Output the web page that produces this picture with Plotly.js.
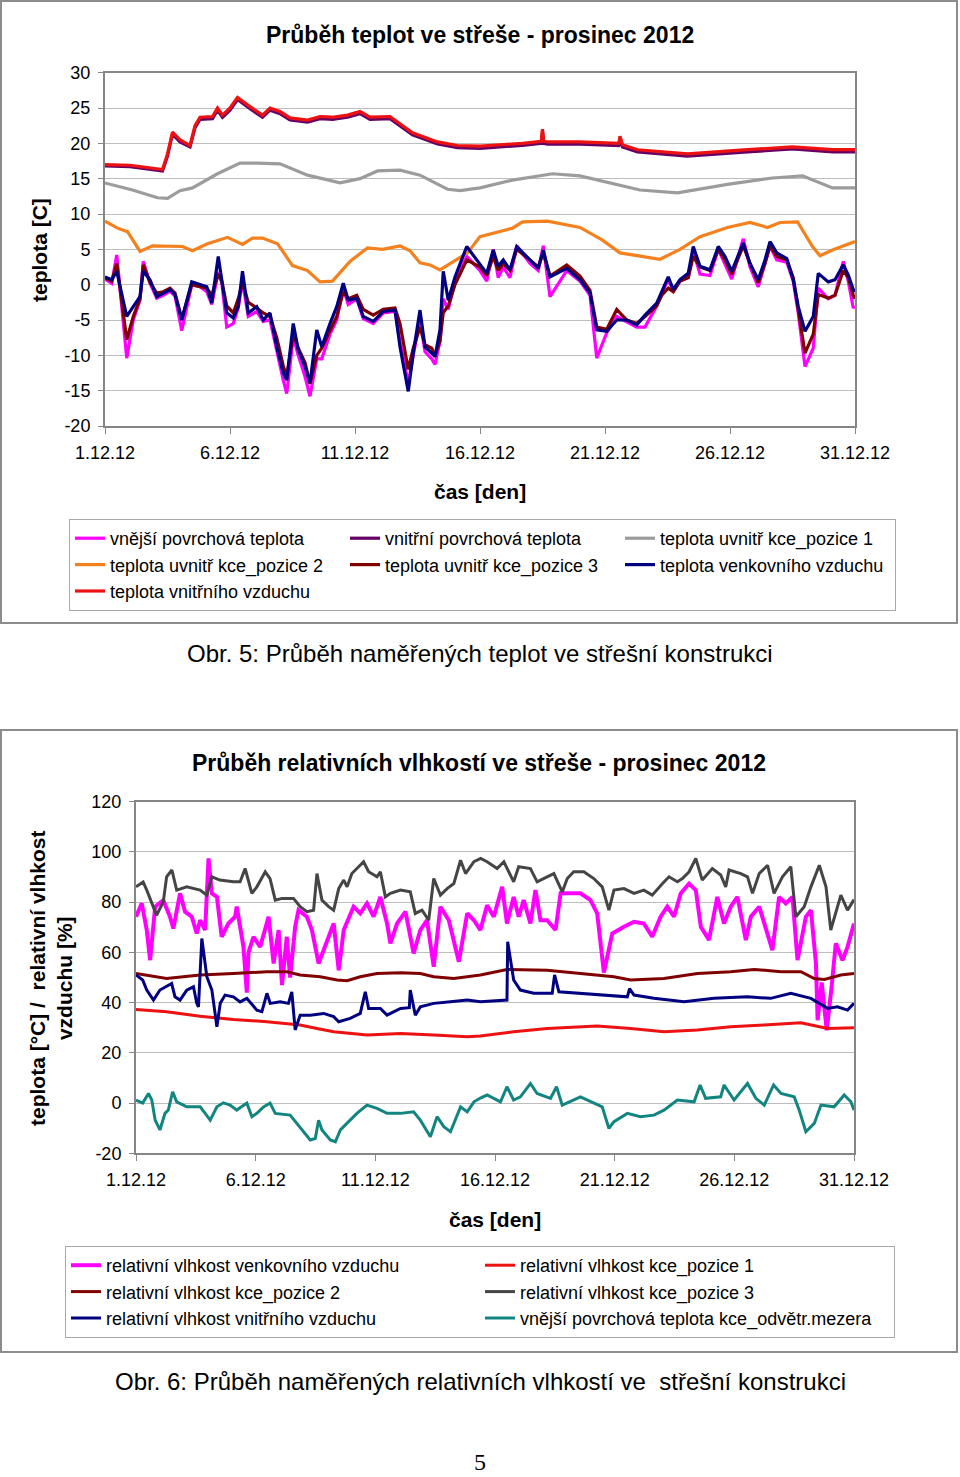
<!DOCTYPE html>
<html>
<head>
<meta charset="utf-8">
<script src="https://cdn.plot.ly/plotly-3.0.1.min.js"></script>
<style>
html,body{margin:0;padding:0;background:#fff;}
#chart{width:960px;height:1477px;}
</style>
</head>
<body>
<div id="chart"></div>
<script>
// ---------- DATA ----------
// Chart 1: temperatures (day of December 2012)
const dayTicks = [1, 6, 11, 16, 21, 26, 31];
const dayTickLabels = ['1.12.12', '6.12.12', '11.12.12', '16.12.12', '21.12.12', '26.12.12', '31.12.12'];
const tempTicks = [-20, -15, -10, -5, 0, 5, 10, 15, 20, 25, 30];
const tempTickLabels = ['-20', '-15', '-10', '-5', '0', '5', '10', '15', '20', '25', '30'];
const rhTicks = [-20, 0, 20, 40, 60, 80, 100, 120];
const rhTickLabels = ['-20', '0', '20', '40', '60', '80', '100', '120'];

const lowDays = [1.0,1.27,1.47,1.87,2.13,2.4,2.53,2.8,3.07,3.33,
  3.6,3.8,4.07,4.47,4.8,5.07,5.27,5.53,5.67,5.87,
  6.13,6.33,6.5,6.73,7.07,7.33,7.6,7.87,8.13,8.27,
  8.53,8.73,9.0,9.2,9.47,9.67,10.0,10.27,10.53,10.73,
  11.07,11.33,11.73,12.13,12.6,12.8,13.13,13.33,13.6,13.8,
  14.07,14.2,14.4,14.53,14.73,15.0,15.47,16.0,16.27,16.53,
  16.73,16.93,17.2,17.47,18.0,18.33,18.53,18.8,19.47,20.0,
  20.4,20.67,21.07,21.47,21.87,22.27,22.6,23.07,23.27,23.53,
  23.73,24.0,24.33,24.53,24.8,25.2,25.53,25.8,26.07,26.53,
  26.8,27.13,27.4,27.6,27.87,28.27,28.53,28.73,29.0,29.33,
  29.53,29.93,30.2,30.53,30.73,30.93,31.0];
const outdoorAirTemp = [1.1,0.7,1.9,-4.5,-3.1,-1.7,1.9,0.7,-1.7,-1.2,
  -0.7,-1.4,-5.0,0.4,0.0,-0.3,-2.6,4.0,0.7,-4.0,
  -4.7,-3.1,1.9,-4.0,-3.1,-5.0,-4.0,-8.8,-12.5,-13.5,
  -5.5,-9.2,-11.6,-13.9,-6.4,-8.8,-5.5,-3.1,0.2,-2.2,
  -1.9,-4.5,-5.2,-3.8,-3.6,-8.8,-15.1,-9.7,-3.6,-8.8,
  -9.7,-10.2,-6.4,1.9,-2.2,1.1,5.4,3.0,1.6,4.9,
  2.6,3.5,2.1,5.4,3.5,2.3,4.9,1.1,2.3,0.7,
  -1.2,-6.4,-6.6,-5.0,-5.0,-5.7,-4.3,-2.6,-1.0,1.1,
  -0.7,0.7,1.6,5.4,2.6,2.1,5.4,4.0,1.9,5.9,
  3.0,0.7,3.5,6.1,4.5,3.7,0.7,-3.1,-6.6,-4.5,
  1.6,0.4,0.7,2.8,1.4,-0.7,-1.0];
const pos3Temp = [1.0,0.5,3.0,-7.8,-4.5,-2.0,2.8,0.3,-1.2,-1.0,
  -0.5,-1.2,-4.8,0.0,-0.3,-0.5,-1.5,1.5,0.5,-3.0,
  -4.0,-2.0,0.3,-2.5,-3.3,-4.0,-4.5,-7.5,-11.5,-13.0,
  -7.0,-9.0,-11.0,-14.0,-10.0,-9.0,-6.5,-4.5,-1.0,-2.0,
  -1.5,-3.5,-4.3,-3.5,-3.3,-5.5,-12.0,-9.0,-6.0,-8.5,
  -9.0,-10.0,-8.0,-4.0,-3.0,0.0,3.5,2.5,1.3,4.0,
  2.0,3.0,2.0,5.0,3.5,2.5,4.5,1.2,2.8,1.2,
  -0.8,-6.0,-6.3,-3.5,-5.0,-5.5,-4.5,-3.0,-1.5,-0.5,
  -1.0,0.5,1.0,4.0,2.5,2.0,5.0,3.5,1.5,5.5,
  3.0,0.3,3.0,5.5,4.0,3.5,1.0,-3.5,-9.7,-7.0,
  -1.4,-1.9,-1.5,2.0,1.0,-1.5,-2.0];
const outerSurfTemp = [0.8,0.2,4.2,-10.4,-5.0,-2.2,3.3,0.2,-1.9,-1.5,
  -0.9,-1.6,-6.5,0.0,-0.3,-1.0,-2.8,1.8,0.3,-6.0,
  -5.5,-3.3,0.5,-4.5,-3.8,-5.2,-5.0,-9.5,-13.5,-15.4,
  -7.5,-10.0,-13.0,-15.8,-10.5,-10.5,-7.0,-5.0,-0.5,-2.8,
  -2.0,-4.8,-5.5,-4.0,-3.8,-8.0,-14.0,-10.0,-5.0,-9.5,
  -10.5,-11.3,-8.0,-2.0,-3.5,0.5,4.0,2.0,0.5,5.0,
  1.0,2.5,1.0,5.5,3.0,2.0,5.5,-1.7,2.0,0.5,
  -1.5,-10.4,-6.8,-4.5,-5.3,-6.0,-6.0,-3.0,-1.3,0.8,
  -1.0,0.5,1.0,4.8,1.5,1.3,5.0,3.0,0.8,6.5,
  2.5,-0.3,3.0,5.5,3.5,3.2,0.5,-4.0,-11.6,-9.0,
  -0.5,-2.0,-1.5,3.3,0.5,-3.3,-3.0];

const indoorDays = [1,2,3.3,3.5,3.7,4.0,4.4,4.6,4.8,5.3,
  5.5,5.7,6.0,6.3,6.8,7.3,7.6,8.0,8.4,9.1,
  9.6,10.1,10.7,11.2,11.6,12.4,13.3,14.3,15.1,16,
  16.8,17.7,18.45,18.5,18.55,18.7,20,21.55,21.6,21.7,
  22.3,24.3,26.7,28.5,30.1,31];
const indoorAirTemp = [17.0,16.9,16.3,18.5,21.6,20.5,19.7,22.5,23.7,23.8,
  25.0,24.0,25.0,26.5,25.2,24.0,25.0,24.5,23.6,23.3,
  23.8,23.7,24.0,24.5,23.7,23.8,21.5,20.2,19.7,19.6,
  19.8,20.0,20.3,22.0,20.3,20.2,20.2,20.0,21.0,19.8,
  19.1,18.5,19.1,19.5,19.1,19.1];
const innerSurfTemp = [16.8,16.7,16.1,18.2,21.3,20.2,19.5,22.2,23.4,23.5,
  24.7,23.7,24.7,26.2,24.9,23.7,24.7,24.2,23.3,23.0,
  23.5,23.4,23.7,24.2,23.4,23.5,21.2,19.9,19.4,19.3,
  19.5,19.7,20.0,21.7,20.0,19.9,19.9,19.7,20.7,19.5,
  18.8,18.2,18.8,19.2,18.8,18.8];

const pos1Days = [1,2.1,3.1,3.5,4.0,4.5,5.5,6.4,7.1,8.0,9.1,10.4,11.2,11.9,12.8,13.6,14.7,15.2,16.0,17.3,18.9,20.0,22.4,23.9,25.9,27.7,28.9,30.1,31];
const pos1Temp = [14.4,13.4,12.3,12.2,13.3,13.7,15.7,17.2,17.2,17.1,15.5,14.4,15.0,16.1,16.2,15.5,13.5,13.3,13.7,14.8,15.7,15.4,13.4,13.0,14.2,15.1,15.4,13.7,13.7];

const pos2Days = [1,1.5,1.9,2.4,2.9,4.1,4.5,5.1,5.9,6.5,
  6.9,7.3,7.9,8.5,9.1,9.6,10.1,10.8,11.5,12.1,
  12.8,13.2,13.6,14.0,14.4,15.5,16.0,16.5,17.3,17.7,
  18.7,20.0,20.9,21.6,23.2,24.0,24.8,25.9,26.8,27.5,
  28.0,28.7,29.3,29.6,30.1,31];
const pos2Temp = [9.0,8.0,7.5,4.7,5.5,5.4,4.8,5.8,6.7,5.7,
  6.6,6.6,5.8,2.7,2.0,0.4,0.5,3.3,5.2,5.0,
  5.5,4.8,3.1,2.8,2.1,4.5,6.8,7.3,8.0,8.9,
  9.0,8.1,6.3,4.5,3.6,5.0,6.8,8.1,8.8,8.1,
  8.8,8.9,5.4,4.1,4.9,6.1];

// Chart 2: relative humidity
const rhOutDays = [1,1.24,1.45,1.59,1.8,2.14,2.42,2.56,2.84,3.05,
  3.33,3.54,3.68,3.89,4.03,4.17,4.38,4.58,4.86,5.14,
  5.21,5.49,5.63,5.7,5.91,6.19,6.54,6.75,6.96,7.1,
  7.3,7.44,7.65,7.79,8.14,8.35,8.63,9.26,9.47,9.68,
  10.09,10.37,10.65,10.93,11.21,11.49,11.63,11.91,12.26,12.6,
  12.88,13.16,13.44,13.72,14.07,14.49,14.84,15.12,15.39,15.67,
  15.95,16.3,16.5,16.78,16.99,17.2,17.48,17.69,17.9,18.18,
  18.53,18.74,19.16,19.57,19.99,20.27,20.55,20.9,21.39,21.81,
  22.22,22.57,22.92,23.2,23.48,23.76,24.11,24.39,24.6,24.94,
  25.29,25.57,25.85,26.13,26.48,26.69,27.04,27.32,27.59,27.87,
  28.15,28.43,28.64,28.99,29.2,29.41,29.48,29.65,29.86,30.05,
  30.24,30.52,30.73,31.0];
const rhOutdoor = [74.2,79.5,68.9,56.9,78.2,80.8,74.2,69.5,83.5,76.2,
  74.2,67.5,72.8,68.9,97.4,83.5,82.1,66.2,71.5,74.2,
  78.2,62.2,44.0,60.0,66.2,62.2,74.2,55.6,68.9,47.0,
  66.2,50.0,70.2,76.8,74.2,68.9,55.6,71.5,52.9,68.9,
  78.2,75.5,79.5,74.2,82.1,71.5,63.6,71.5,76.2,59.6,
  68.9,72.8,54.3,78.2,72.8,56.3,75.5,72.8,68.9,78.8,
  74.2,86.1,71.5,82.1,74.2,80.8,71.5,84.8,72.8,72.8,
  68.9,83.5,83.5,83.5,80.8,75.5,52.0,67.5,70.2,72.2,
  71.5,66.2,74.2,78.2,74.2,83.5,87.4,84.8,70.2,64.9,
  82.1,71.5,78.2,82.1,64.9,74.2,78.2,68.9,60.9,82.1,
  79.5,82.1,56.9,74.2,76.8,55.6,33.0,48.0,29.0,45.0,
  63.6,56.9,62.2,71.5];

const rhPos1Days = [1,2.28,3.68,5.07,6.47,7.86,8.56,9.26,10.65,12.05,13.44,14.84,15.39,16.78,18.18,20.27,21.67,23.06,24.46,25.85,27.25,28.78,29.9,31.0];
const rhPos1 = [37.3,36.4,34.6,33.3,32.4,31.1,29.7,28.4,27.1,27.7,27.1,26.4,26.7,28.4,29.7,30.7,29.7,28.4,29.1,30.4,31.1,32.0,29.7,30.0];

const rhPos2Days = [1,1.97,2.28,2.98,3.68,5.07,6.47,7.3,7.86,8.7,
  9.4,9.82,10.37,11.07,12.05,12.88,13.44,14.28,14.84,15.39,
  16.5,18.18,19.57,20.97,21.67,23.06,24.46,25.85,26.83,27.95,
  28.78,29.34,29.76,30.45,31.0];
const rhPos2 = [51.6,50.3,49.6,50.3,51.0,51.6,52.3,52.3,51.0,50.3,
  49.0,48.7,50.3,51.6,51.9,51.6,50.3,49.6,50.3,51.0,
  53.2,52.9,51.6,50.3,49.0,49.6,51.6,52.3,53.2,52.3,
  52.3,49.6,49.2,51.0,51.6];

const rhPos3Days = [1,1.3,1.45,1.73,1.86,2.14,2.28,2.5,2.7,3.12,
  3.68,3.96,4.17,4.5,5.07,5.35,5.56,5.84,6.05,6.4,
  6.6,6.82,7.1,7.58,7.86,8.14,8.42,8.56,8.77,9.05,
  9.26,9.47,9.68,9.82,10.02,10.51,10.72,11.07,11.21,11.42,
  11.63,12.05,12.46,12.67,12.95,13.23,13.44,13.72,14.0,14.28,
  14.56,14.77,15.12,15.4,15.67,16.09,16.37,16.78,16.99,17.48,
  17.76,18.18,18.46,18.81,19.02,19.29,19.71,20.13,20.48,20.76,
  20.97,21.39,21.81,22.22,22.57,23.0,23.27,23.62,23.83,24.11,
  24.39,24.66,25.08,25.43,25.64,25.78,26.27,26.55,26.76,27.04,
  27.39,27.66,28.01,28.36,28.57,28.92,29.2,29.55,29.83,30.03,
  30.45,30.73,31.0];
const rhPos3 = [86.1,88.0,84.8,78.2,74.8,80.1,90.1,92.8,84.8,86.1,
  84.8,82.8,90.1,88.8,88.1,88.1,93.4,83.5,86.1,92.1,
  89.4,80.8,81.5,81.5,78.2,76.2,76.8,91.4,80.8,78.2,
  76.8,85.4,88.8,86.1,91.4,96.1,92.1,90.1,92.1,82.1,
  83.5,84.8,84.1,75.5,76.8,72.8,89.4,82.8,85.4,87.4,
  96.7,91.4,96.1,97.4,96.1,93.4,96.1,88.1,94.1,93.4,
  88.1,90.1,91.4,84.1,89.4,92.1,92.1,89.4,86.1,76.8,
  84.8,85.4,83.5,84.8,82.8,87.4,90.1,88.1,89.4,92.1,
  97.4,88.8,93.4,90.8,86.1,92.8,91.4,90.1,83.5,91.4,
  94.7,83.5,90.1,94.1,74.2,78.2,86.1,94.7,86.1,68.9,
  82.8,76.8,81.0];

const rhInDays = [1,1.28,1.45,1.73,2.0,2.28,2.49,2.63,2.84,3.12,
  3.4,3.54,3.61,3.75,3.96,4.17,4.38,4.52,4.72,5.07,
  5.35,5.63,6.05,6.26,6.47,6.61,7.03,7.37,7.51,7.65,
  7.86,8.28,8.84,9.26,9.47,9.95,10.37,10.58,10.72,11.21,
  11.49,12.05,12.42,12.46,12.67,12.88,13.44,14.14,14.84,15.39,
  16.5,16.53,16.78,17.06,17.62,18.39,18.49,18.67,19.57,20.69,
  21.53,21.62,21.81,22.64,23.9,25.15,26.55,27.52,28.36,29.2,
  29.9,30.31,30.73,31.0];
const rhIndoor = [51.0,49.0,45.0,41.0,45.0,46.3,47.6,42.3,41.0,45.0,
  46.3,39.7,38.3,65.5,50.3,45.0,30.4,39.7,43.0,42.3,
  40.3,41.7,37.0,36.4,43.7,39.7,40.3,39.7,44.3,29.1,
  35.0,35.0,35.7,34.4,32.4,33.7,35.7,44.3,37.7,37.7,
  35.0,37.7,38.0,45.0,35.0,38.3,39.7,40.3,41.0,40.3,
  41.0,64.2,49.0,45.0,43.7,43.7,51.0,44.3,43.7,43.0,
  42.3,45.6,43.0,41.7,40.3,41.7,42.3,41.7,43.7,41.7,
  37.7,38.3,37.0,39.7];

const gapDays = [1,1.28,1.52,1.66,1.8,2.0,2.21,2.35,2.53,2.7,
  3.12,3.68,3.89,4.1,4.38,4.65,4.93,5.21,5.63,5.84,
  6.05,6.33,6.6,6.82,7.44,7.72,8.0,8.28,8.49,8.63,
  8.77,9.12,9.33,9.54,9.81,10.23,10.65,11.07,11.49,12.05,
  12.6,12.88,13.3,13.58,13.86,14.14,14.56,14.84,15.12,15.39,
  15.67,16.23,16.5,16.78,17.06,17.48,17.76,18.32,18.57,18.81,
  19.57,20.13,20.48,20.76,20.97,21.53,22.08,22.64,23.06,23.62,
  24.32,24.57,24.8,25.43,25.57,25.99,26.55,26.9,27.25,27.64,
  27.95,28.5,28.71,28.99,29.34,29.62,30.17,30.59,30.87,31.0];
const gapSurfTemp = [1.2,0.0,3.8,1.2,-6.8,-10.7,-4.1,-2.8,4.5,0.5,
  -1.5,-1.5,-4.1,-6.8,-1.5,0.1,-0.8,-2.8,0.0,-5.4,
  -4.1,-1.5,0.0,-4.1,-4.8,-8.1,-11.4,-14.7,-14.1,-6.8,
  -10.7,-14.7,-15.4,-10.7,-8.1,-4.1,-0.8,-2.1,-4.1,-4.1,
  -3.5,-6.8,-13.4,-5.4,-9.4,-11.4,-1.5,-3.5,0.5,2.0,
  3.2,0.5,6.5,1.2,2.5,7.8,3.8,1.9,6.5,-0.8,
  2.5,-0.1,-1.5,-10.1,-7.4,-4.1,-5.4,-4.8,-2.8,1.2,
  0.5,7.2,1.9,2.5,7.2,1.2,7.8,1.9,-0.8,7.2,
  3.8,2.5,-2.8,-11.4,-8.1,-0.8,-1.5,3.2,0.5,-2.8];

// ---------- LAYOUT HELPERS ----------
const W = 960, H = 1477;
const fx = p => p / W;
const fy = p => 1 - p / H;
const FONT = 'Liberation Sans, Arial, Helvetica, sans-serif';
const AXC = '#868686';

function line(name, x, y, color, width, xa, ya, leg) {
  return {type: 'scatter', mode: 'lines', name: name, x: x, y: y,
    xaxis: xa, yaxis: ya, legend: leg,
    line: {color: color, width: width, shape: 'linear'}, hoverinfo: 'skip'};
}

const traces = [
  line('vnější povrchová teplota', lowDays, outerSurfTemp, '#FF00FF', 3.2, 'x', 'y', 'legend'),
  line('vnitřní povrchová teplota', indoorDays, innerSurfTemp, '#660066', 3.2, 'x', 'y', 'legend'),
  line('teplota uvnitř kce_pozice 1', pos1Days, pos1Temp, '#9C9C9C', 3.2, 'x', 'y', 'legend'),
  line('teplota uvnitř kce_pozice 2', pos2Days, pos2Temp, '#F5801E', 3.2, 'x', 'y', 'legend'),
  line('teplota uvnitř kce_pozice 3', lowDays, pos3Temp, '#800000', 3.2, 'x', 'y', 'legend'),
  line('teplota venkovního vzduchu', lowDays, outdoorAirTemp, '#000080', 3.2, 'x', 'y', 'legend'),
  line('teplota vnitřního vzduchu', indoorDays, indoorAirTemp, '#EE1111', 3.2, 'x', 'y', 'legend'),

  line('relativní vlhkost venkovního vzduchu', rhOutDays, rhOutdoor, '#FF00FF', 4, 'x2', 'y2', 'legend2'),
  line('relativní vlhkost kce_pozice 1', rhPos1Days, rhPos1, '#EE1111', 3, 'x2', 'y2', 'legend2'),
  line('relativní vlhkost kce_pozice 2', rhPos2Days, rhPos2, '#800000', 3, 'x2', 'y2', 'legend2'),
  line('relativní vlhkost kce_pozice 3', rhPos3Days, rhPos3, '#454545', 3, 'x2', 'y2', 'legend2'),
  line('relativní vlhkost vnitřního vzduchu', rhInDays, rhIndoor, '#000080', 3, 'x2', 'y2', 'legend2'),
  line('vnější povrchová teplota kce_odvětr.mezera', gapDays, gapSurfTemp, '#138580', 3, 'x2', 'y2', 'legend2')
];

function xAxis(domain, anchor) {
  return {domain: domain, anchor: anchor, range: [1, 31], tickmode: 'array',
    tickvals: dayTicks, ticktext: dayTickLabels, ticks: 'outside', ticklen: 6,
    tickcolor: AXC, tickwidth: 1, showline: true, mirror: true, linecolor: AXC,
    linewidth: 2, showgrid: false, zeroline: false, fixedrange: true,
    tickfont: {family: FONT, size: 18, color: '#000'}, ticklabelstandoff: 3};
}
function yAxis(domain, anchor, range, ticks, labels) {
  return {domain: domain, anchor: anchor, range: range, tickmode: 'array',
    tickvals: ticks, ticktext: labels, ticks: 'outside', ticklen: 5, tickcolor: AXC, tickwidth: 1,
    showline: true, mirror: true, linecolor: AXC, linewidth: 2,
    showgrid: true, gridcolor: '#BDBDBD', gridwidth: 1, zeroline: false,
    fixedrange: true, tickfont: {family: FONT, size: 18, color: '#000'},
    ticklabelstandoff: 4};
}

function ann(text, x, y, size, extra) {
  return Object.assign({text: text, x: fx(x), y: fy(y), xref: 'paper', yref: 'paper',
    xanchor: 'center', yanchor: 'middle', showarrow: false,
    font: {family: FONT, size: size, color: '#000'}}, extra || {});
}

const layout = {
  width: W, height: H,
  margin: {l: 0, r: 0, t: 0, b: 0, pad: 0},
  paper_bgcolor: '#FFFFFF', plot_bgcolor: '#FFFFFF',
  font: {family: FONT, size: 18, color: '#000'},
  showlegend: true,
  xaxis: xAxis([fx(105), fx(855)], 'y'),
  yaxis: yAxis([fy(426), fy(72.7)], 'x', [-20, 30], tempTicks, tempTickLabels),
  xaxis2: xAxis([fx(136), fx(854)], 'y2'),
  yaxis2: yAxis([fy(1153.3), fy(801.7)], 'x2', [-20, 120], rhTicks, rhTickLabels),
  legend: {x: fx(69), y: fy(519), xanchor: 'left', yanchor: 'top',
    orientation: 'h', entrywidth: 230, entrywidthmode: 'pixels',
    bgcolor: '#FFFFFF', bordercolor: '#A8A8A8', borderwidth: 1,
    font: {family: FONT, size: 18, color: '#000'}, traceorder: 'normal',
    itemclick: false, itemdoubleclick: false},
  legend2: {x: fx(65), y: fy(1246), xanchor: 'left', yanchor: 'top',
    orientation: 'h', entrywidth: 369, entrywidthmode: 'pixels',
    bgcolor: '#FFFFFF', bordercolor: '#A8A8A8', borderwidth: 1,
    font: {family: FONT, size: 18, color: '#000'}, traceorder: 'normal',
    itemclick: false, itemdoubleclick: false},
  shapes: [
    {type: 'rect', xref: 'paper', yref: 'paper', x0: fx(1), x1: fx(957), y0: fy(623), y1: fy(1),
      line: {color: '#8C8C8C', width: 2}, fillcolor: 'rgba(0,0,0,0)', layer: 'below'},
    {type: 'rect', xref: 'paper', yref: 'paper', x0: fx(1), x1: fx(957), y0: fy(1352), y1: fy(730),
      line: {color: '#8C8C8C', width: 2}, fillcolor: 'rgba(0,0,0,0)', layer: 'below'}
  ],
  annotations: [
    ann('<b>Průběh teplot ve střeše - prosinec 2012</b>', 480, 35, 23),
    ann('<b>čas [den]</b>', 480, 491, 21),
    ann('<b>teplota [C]</b>', 40, 250, 21, {textangle: -90}),
    ann('Obr. 5: Průběh naměřených teplot ve střešní konstrukci', 480, 653, 24),
    ann('<b>Průběh relativních vlhkostí ve střeše - prosinec 2012</b>', 479, 763, 23),
    ann('<b>čas [den]</b>', 495, 1219, 21),
    ann('<b>teplota [°C] /  relativní vlhkost<br>vzduchu [%]</b>', 51, 979, 21, {textangle: -90}),
    ann('Obr. 6: Průběh naměřených relativních vlhkostí ve  střešní konstrukci', 480, 1381, 24),
    ann('5', 480, 1462, 24, {font: {family: 'Liberation Serif, Times New Roman, serif', size: 24, color: '#000'}})
  ]
};

Plotly.newPlot('chart', traces, layout, {staticPlot: true, displayModeBar: false, responsive: false});
</script>
</body>
</html>
